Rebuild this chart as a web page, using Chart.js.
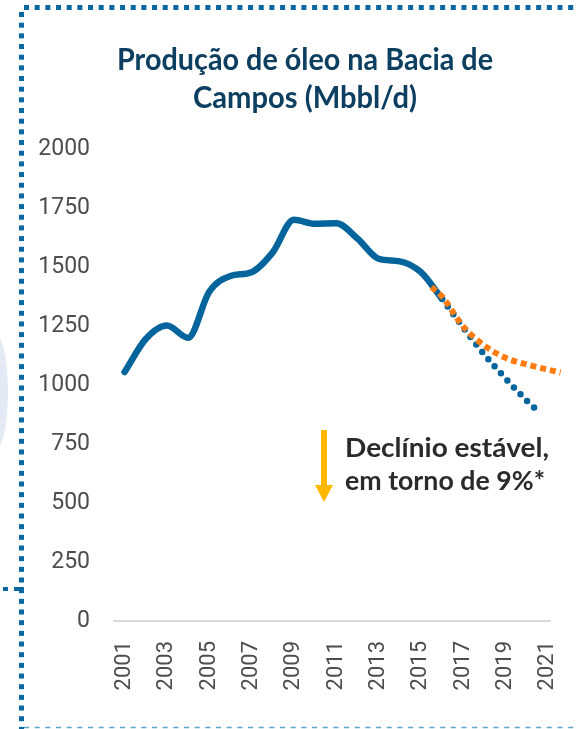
<!DOCTYPE html>
<html>
<head>
<meta charset="utf-8">
<script src="https://cdn.jsdelivr.net/npm/chart.js@4.4.1/dist/chart.umd.min.js"></script>
<style>
  html, body { margin: 0; padding: 0; background: #fff; }
  #wrap { width: 576px; height: 729px; }
</style>
</head>
<body>
<div id="wrap"><canvas id="myChart"></canvas></div>
<script>
// dados
let years = [2001, 2002, 2003, 2004, 2005, 2006, 2007, 2008, 2009, 2010, 2011, 2012, 2013, 2014, 2015, 2016];
let production = [1055, 1195, 1252, 1200, 1395, 1462, 1478, 1562, 1700, 1683, 1685, 1621, 1535, 1524, 1478, 1365];

let declineYears = [2016, 2017, 2018, 2019, 2020, 2020.65];
let declineValues = [1365, 1244, 1129, 1028, 934, 880];

let stableYears = [2015.5, 2016, 2017, 2018, 2019, 2020, 2021, 2021.6];
let stableValues = [1415, 1375, 1248, 1167, 1115, 1087, 1065, 1053];

let xTickYears = [2001, 2003, 2005, 2007, 2009, 2011, 2013, 2015, 2017, 2019, 2021];
let yTickValues = [0, 250, 500, 750, 1000, 1250, 1500, 1750, 2000];

let titleLines = ['Produção de óleo na Bacia de', 'Campos (Mbbl/d)'];
let noteLines = ['Declínio estável,', 'em torno de 9%*'];

function toPoints(xs, ys) {
  let pts = [];
  for (let i = 0; i < xs.length; i++) pts.push({ x: xs[i], y: ys[i] });
  return pts;
}

// texto comprimido na horizontal (fonte condensada do original)
function drawFitText(ctx, text, x, y, width, font, color, align) {
  ctx.save();
  ctx.font = font;
  ctx.fillStyle = color;
  ctx.textBaseline = 'alphabetic';
  ctx.textAlign = 'left';
  let w = ctx.measureText(text).width;
  let sx = width / w;
  let left = align === 'center' ? x - width / 2 : x;
  ctx.translate(left, y);
  ctx.scale(sx, 1);
  ctx.fillText(text, 0, 0);
  ctx.restore();
}

const decorPlugin = {
  id: 'decor',
  beforeDraw(chart) {
    const ctx = chart.ctx;
    ctx.save();
    // mancha azul clara à esquerda
    ctx.fillStyle = '#e3eaf4';
    ctx.beginPath();
    ctx.ellipse(-6, 392, 14, 60, 0, 0, Math.PI * 2);
    ctx.fill();
    // moldura pontilhada
    ctx.fillStyle = '#0a67a0';
    for (let x = 24; x < 576; x += 10.67) ctx.fillRect(x, 5, 5, 5);
    for (let y = 12; y < 729; y += 10.67) ctx.fillRect(19, y, 5, 5);
    ctx.fillRect(3, 587, 5, 4);
    ctx.fillRect(14, 587, 10, 4);
    // linha tracejada de baixo
    ctx.strokeStyle = '#5aa6cd';
    ctx.lineWidth = 1.5;
    ctx.setLineDash([5, 5.67]);
    ctx.beginPath();
    ctx.moveTo(24, 727.5);
    ctx.lineTo(576, 727.5);
    ctx.stroke();
    ctx.restore();
  },
  afterDraw(chart) {
    const ctx = chart.ctx;
    drawFitText(ctx, titleLines[0], 305, 70, 376, 'bold 30px Lato', '#0c3f60', 'center');
    drawFitText(ctx, titleLines[1], 305, 108, 224, 'bold 30px Lato', '#0c3f60', 'center');

    // seta amarela
    ctx.save();
    ctx.fillStyle = '#ffb800';
    ctx.fillRect(321, 430, 6, 57);
    ctx.beginPath();
    ctx.moveTo(315, 485);
    ctx.lineTo(333, 485);
    ctx.lineTo(324, 502);
    ctx.closePath();
    ctx.fill();
    ctx.restore();

    drawFitText(ctx, noteLines[0], 345, 457, 204, 'bold 26px Lato', '#2b2b2b', 'left');
    drawFitText(ctx, noteLines[1], 345, 490, 200, 'bold 26px Lato', '#2b2b2b', 'left');
  }
};

const ctx = document.getElementById('myChart');
ctx.width = 576;
ctx.height = 729;

new Chart(ctx, {
  type: 'line',
  data: {
    datasets: [
      {
        label: 'Declínio estável',
        data: toPoints(stableYears, stableValues),
        borderColor: '#ff7c12',
        borderWidth: 6,
        borderDash: [6, 4],
        borderCapStyle: 'butt',
        pointRadius: 0,
        cubicInterpolationMode: 'monotone',
        clip: false
      },
      {
        label: 'Declínio',
        data: toPoints(declineYears, declineValues),
        borderColor: '#04649c',
        borderWidth: 6.5,
        borderDash: [0, 9.5],
        borderCapStyle: 'round',
        pointRadius: 0,
        cubicInterpolationMode: 'monotone',
        clip: false
      },
      {
        label: 'Produção',
        data: toPoints(years, production),
        borderColor: '#04649c',
        borderWidth: 6.5,
        borderCapStyle: 'round',
        borderJoinStyle: 'round',
        pointRadius: 0,
        cubicInterpolationMode: 'monotone'
      }
    ]
  },
  options: {
    responsive: false,
    animation: false,
    layout: { padding: { top: 149, right: 26, left: 0, bottom: 0 } },
    plugins: {
      legend: { display: false },
      tooltip: { enabled: false }
    },
    scales: {
      x: {
        type: 'linear',
        min: 2000.5,
        max: 2021.1,
        afterBuildTicks: function(scale) {
          scale.ticks = xTickYears.map(v => ({ value: v }));
        },
        afterFit: function(scale) {
          scale.height = 108;
          scale.paddingLeft = 0;
          scale.paddingRight = 0;
        },
        grid: { display: false, drawTicks: false, tickLength: 0 },
        border: { display: true, color: '#d9d9d9', width: 2 },
        ticks: {
          minRotation: 90,
          maxRotation: 90,
          padding: 20,
          color: '#4d4d4d',
          font: { family: 'Roboto', size: 22 },
          callback: function(v) { return String(v); }
        }
      },
      y: {
        min: 0,
        max: 2000,
        afterBuildTicks: function(scale) {
          scale.ticks = yTickValues.map(v => ({ value: v }));
        },
        afterFit: function(scale) { scale.width = 114; },
        grid: { display: false, drawTicks: false, tickLength: 0 },
        border: { display: false },
        ticks: {
          padding: 24,
          color: '#4d4d4d',
          font: { family: 'Roboto', size: 23 },
          callback: function(v) { return String(v); }
        }
      }
    }
  },
  plugins: [decorPlugin]
});
</script>
</body>
</html>
